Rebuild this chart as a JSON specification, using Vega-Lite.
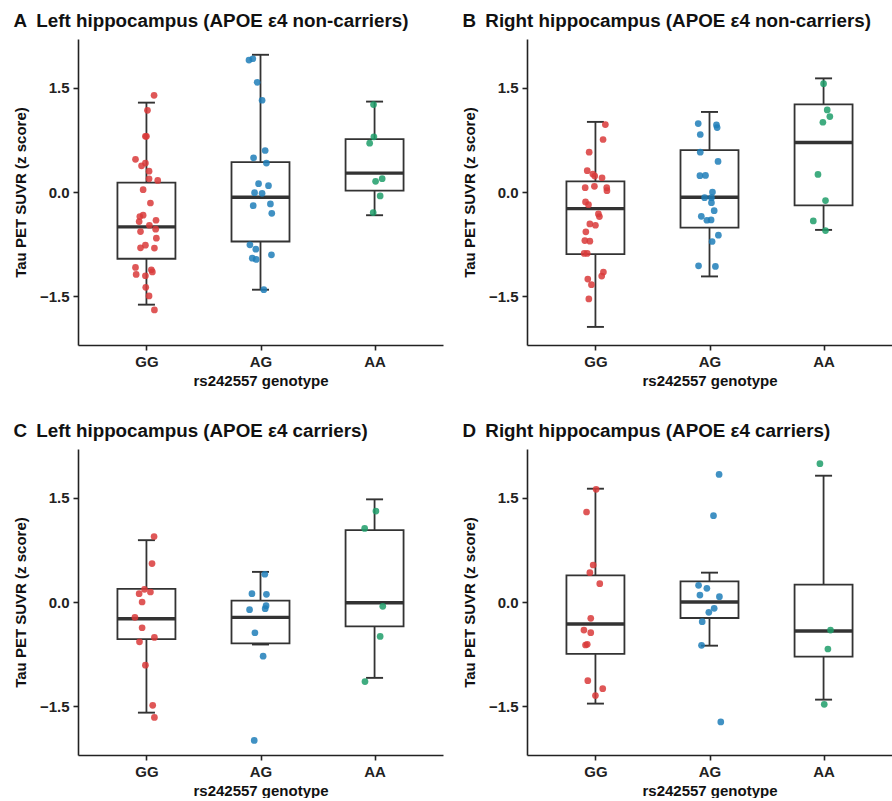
{
"$schema": "https://vega.github.io/schema/vega-lite/v6.json",
"padding": {"left": 13, "top": 12, "right": 0, "bottom": 0},
"background": "white",
"config": {
  "view": {"stroke": null},
  "font": "Liberation Sans",
  "tick": {"opacity": 1},
  "title": {"font": "Liberation Sans", "fontSize": 18.8, "fontWeight": "bold", "color": "#111", "anchor": "start", "frame": "bounds", "offset": 8},
  "axis": {"labelFont": "Liberation Sans", "labelFontSize": 15, "labelFontWeight": "bold", "labelColor": "#222", "titleFont": "Liberation Sans", "titleFontSize": 15, "titleFontWeight": "bold", "titleColor": "#111", "domainColor": "#222", "domainWidth": 1.6, "tickColor": "#222", "tickWidth": 1.6, "tickSize": 5, "grid": false, "labelPadding": 4},
  "axisY": {"titlePadding": 11},
  "axisX": {"titlePadding": 4}
},
"datasets": {
"box": [
{"p":"A","g":"GG","lo":-1.62,"q1":-0.96,"med":-0.502,"q3":0.134,"hi":1.285},
{"p":"A","g":"AG","lo":-1.405,"q1":-0.712,"med":-0.076,"q3":0.43,"hi":1.973},
{"p":"A","g":"AA","lo":-0.334,"q1":0.019,"med":0.272,"q3":0.76,"hi":1.3},
{"p":"B","g":"GG","lo":-1.94,"q1":-0.893,"med":-0.239,"q3":0.153,"hi":1.008},
{"p":"B","g":"AG","lo":-1.214,"q1":-0.511,"med":-0.076,"q3":0.602,"hi":1.151},
{"p":"B","g":"AA","lo":-0.545,"q1":-0.191,"med":0.712,"q3":1.261,"hi":1.634},
{"p":"C","g":"GG","lo":-1.591,"q1":-0.534,"med":-0.24,"q3":0.188,"hi":0.889},
{"p":"C","g":"AG","lo":-0.611,"q1":-0.596,"med":-0.221,"q3":0.019,"hi":0.433},
{"p":"C","g":"AA","lo":-1.091,"q1":-0.351,"med":-0.01,"q3":1.034,"hi":1.476},
{"p":"D","g":"GG","lo":-1.461,"q1":-0.747,"med":-0.316,"q3":0.383,"hi":1.629},
{"p":"D","g":"AG","lo":-0.628,"q1":-0.23,"med":0.0,"q3":0.297,"hi":0.422},
{"p":"D","g":"AA","lo":-1.404,"q1":-0.786,"med":-0.417,"q3":0.249,"hi":1.816}
],
"pts": [
{"p":"A","g":"GG","v":1.39,"j":0.067},{"p":"A","g":"GG","v":1.175,"j":0.009},{"p":"A","g":"GG","v":0.8,"j":-0.009},{"p":"A","g":"GG","v":0.8,"j":0.0},
{"p":"A","g":"GG","v":0.47,"j":-0.096},{"p":"A","g":"GG","v":0.416,"j":-0.009},{"p":"A","g":"GG","v":0.377,"j":-0.043},{"p":"A","g":"GG","v":0.3,"j":0.023},
{"p":"A","g":"GG","v":0.19,"j":0.023},{"p":"A","g":"GG","v":0.167,"j":0.099},{"p":"A","g":"GG","v":0.033,"j":-0.029},{"p":"A","g":"GG","v":-0.158,"j":0.035},
{"p":"A","g":"GG","v":-0.334,"j":-0.029},{"p":"A","g":"GG","v":-0.354,"j":-0.058},{"p":"A","g":"GG","v":-0.425,"j":-0.064},{"p":"A","g":"GG","v":-0.406,"j":0.084},
{"p":"A","g":"GG","v":-0.478,"j":0.026},{"p":"A","g":"GG","v":-0.535,"j":0.081},{"p":"A","g":"GG","v":-0.569,"j":-0.052},{"p":"A","g":"GG","v":-0.664,"j":0.087},
{"p":"A","g":"GG","v":-0.765,"j":-0.009},{"p":"A","g":"GG","v":-0.803,"j":-0.052},{"p":"A","g":"GG","v":-0.807,"j":0.07},{"p":"A","g":"GG","v":-1.085,"j":-0.096},
{"p":"A","g":"GG","v":-1.118,"j":0.043},{"p":"A","g":"GG","v":-1.15,"j":0.052},{"p":"A","g":"GG","v":-1.185,"j":-0.09},{"p":"A","g":"GG","v":-1.204,"j":-0.009},
{"p":"A","g":"GG","v":-1.371,"j":-0.006},{"p":"A","g":"GG","v":-1.495,"j":0.023},{"p":"A","g":"GG","v":-1.696,"j":0.07},
{"p":"A","g":"AG","v":1.897,"j":-0.101},{"p":"A","g":"AG","v":1.916,"j":-0.067},{"p":"A","g":"AG","v":1.577,"j":-0.029},{"p":"A","g":"AG","v":1.319,"j":0.014},
{"p":"A","g":"AG","v":0.597,"j":0.041},{"p":"A","g":"AG","v":0.492,"j":-0.061},{"p":"A","g":"AG","v":0.416,"j":0.052},{"p":"A","g":"AG","v":0.119,"j":-0.017},
{"p":"A","g":"AG","v":0.091,"j":0.07},{"p":"A","g":"AG","v":-0.01,"j":-0.052},{"p":"A","g":"AG","v":-0.019,"j":0.014},{"p":"A","g":"AG","v":-0.196,"j":-0.064},
{"p":"A","g":"AG","v":-0.172,"j":0.087},{"p":"A","g":"AG","v":-0.306,"j":0.099},{"p":"A","g":"AG","v":-0.76,"j":-0.093},{"p":"A","g":"AG","v":-0.822,"j":-0.041},
{"p":"A","g":"AG","v":-0.951,"j":-0.072},{"p":"A","g":"AG","v":-0.97,"j":-0.038},{"p":"A","g":"AG","v":-0.903,"j":0.096},{"p":"A","g":"AG","v":-1.405,"j":0.029},
{"p":"A","g":"AA","v":1.257,"j":-0.009},{"p":"A","g":"AA","v":0.793,"j":-0.006},{"p":"A","g":"AA","v":0.702,"j":-0.043},{"p":"A","g":"AA","v":0.191,"j":0.067},
{"p":"A","g":"AA","v":0.153,"j":0.009},{"p":"A","g":"AA","v":-0.057,"j":0.049},{"p":"A","g":"AA","v":-0.296,"j":-0.012},
{"p":"B","g":"GG","v":0.97,"j":0.087},{"p":"B","g":"GG","v":0.755,"j":0.067},{"p":"B","g":"GG","v":0.573,"j":-0.055},{"p":"B","g":"GG","v":0.306,"j":-0.072},
{"p":"B","g":"GG","v":0.258,"j":-0.023},{"p":"B","g":"GG","v":0.229,"j":-0.006},{"p":"B","g":"GG","v":0.205,"j":0.058},{"p":"B","g":"GG","v":0.062,"j":-0.09},
{"p":"B","g":"GG","v":0.081,"j":-0.009},{"p":"B","g":"GG","v":0.062,"j":0.099},{"p":"B","g":"GG","v":0.019,"j":0.101},{"p":"B","g":"GG","v":-0.143,"j":-0.087},
{"p":"B","g":"GG","v":-0.182,"j":-0.061},{"p":"B","g":"GG","v":-0.315,"j":0.026},{"p":"B","g":"GG","v":-0.354,"j":0.035},{"p":"B","g":"GG","v":-0.459,"j":-0.049},
{"p":"B","g":"GG","v":-0.478,"j":0.0},{"p":"B","g":"GG","v":-0.573,"j":-0.084},{"p":"B","g":"GG","v":-0.698,"j":-0.093},{"p":"B","g":"GG","v":-0.707,"j":-0.049},
{"p":"B","g":"GG","v":-0.884,"j":-0.099},{"p":"B","g":"GG","v":-0.884,"j":-0.072},{"p":"B","g":"GG","v":-1.151,"j":0.07},{"p":"B","g":"GG","v":-1.209,"j":0.055},
{"p":"B","g":"GG","v":-1.252,"j":-0.067},{"p":"B","g":"GG","v":-1.333,"j":-0.035},{"p":"B","g":"GG","v":-1.538,"j":-0.058},
{"p":"B","g":"AG","v":0.984,"j":-0.099},{"p":"B","g":"AG","v":0.965,"j":0.061},{"p":"B","g":"AG","v":0.927,"j":0.067},{"p":"B","g":"AG","v":0.827,"j":-0.081},
{"p":"B","g":"AG","v":0.573,"j":-0.081},{"p":"B","g":"AG","v":0.44,"j":0.075},{"p":"B","g":"AG","v":0.234,"j":-0.084},{"p":"B","g":"AG","v":0.239,"j":-0.035},
{"p":"B","g":"AG","v":0.0,"j":0.026},{"p":"B","g":"AG","v":-0.081,"j":-0.043},{"p":"B","g":"AG","v":-0.081,"j":0.017},{"p":"B","g":"AG","v":-0.153,"j":0.017},
{"p":"B","g":"AG","v":-0.268,"j":0.041},{"p":"B","g":"AG","v":-0.349,"j":-0.072},{"p":"B","g":"AG","v":-0.406,"j":-0.023},{"p":"B","g":"AG","v":-0.401,"j":0.014},
{"p":"B","g":"AG","v":-0.621,"j":0.078},{"p":"B","g":"AG","v":-0.712,"j":0.023},{"p":"B","g":"AG","v":-1.061,"j":-0.096},{"p":"B","g":"AG","v":-1.07,"j":0.052},
{"p":"B","g":"AA","v":1.558,"j":0.0},{"p":"B","g":"AA","v":1.18,"j":0.032},{"p":"B","g":"AA","v":1.085,"j":0.055},{"p":"B","g":"AA","v":1.003,"j":-0.006},
{"p":"B","g":"AA","v":0.253,"j":-0.049},{"p":"B","g":"AA","v":-0.124,"j":0.017},{"p":"B","g":"AA","v":-0.416,"j":-0.09},{"p":"B","g":"AA","v":-0.554,"j":0.017},
{"p":"C","g":"GG","v":0.942,"j":0.067},{"p":"C","g":"GG","v":0.553,"j":0.049},{"p":"C","g":"GG","v":0.183,"j":-0.017},{"p":"C","g":"GG","v":0.12,"j":-0.064},
{"p":"C","g":"GG","v":0.144,"j":0.035},{"p":"C","g":"GG","v":0.0,"j":-0.038},{"p":"C","g":"GG","v":-0.221,"j":-0.101},{"p":"C","g":"GG","v":-0.37,"j":-0.038},
{"p":"C","g":"GG","v":-0.51,"j":0.07},{"p":"C","g":"GG","v":-0.572,"j":-0.061},{"p":"C","g":"GG","v":-0.909,"j":-0.009},{"p":"C","g":"GG","v":-1.486,"j":0.055},
{"p":"C","g":"GG","v":-1.659,"j":0.07},
{"p":"C","g":"AG","v":0.399,"j":0.038},{"p":"C","g":"AG","v":0.12,"j":-0.075},{"p":"C","g":"AG","v":0.111,"j":0.052},{"p":"C","g":"AG","v":-0.053,"j":0.049},
{"p":"C","g":"AG","v":-0.096,"j":0.041},{"p":"C","g":"AG","v":-0.111,"j":-0.096},{"p":"C","g":"AG","v":-0.442,"j":-0.049},{"p":"C","g":"AG","v":-0.779,"j":0.023},
{"p":"C","g":"AG","v":-1.99,"j":-0.055},
{"p":"C","g":"AA","v":1.308,"j":0.012},{"p":"C","g":"AA","v":1.058,"j":-0.087},{"p":"C","g":"AA","v":-0.0625,"j":0.072},{"p":"C","g":"AA","v":-0.495,"j":0.049},
{"p":"C","g":"AA","v":-1.144,"j":-0.084},
{"p":"D","g":"GG","v":1.62,"j":0.006},{"p":"D","g":"GG","v":1.294,"j":-0.078},{"p":"D","g":"GG","v":0.532,"j":-0.02},{"p":"D","g":"GG","v":0.422,"j":-0.049},
{"p":"D","g":"GG","v":0.264,"j":0.038},{"p":"D","g":"GG","v":-0.235,"j":-0.041},{"p":"D","g":"GG","v":-0.403,"j":-0.101},{"p":"D","g":"GG","v":-0.441,"j":-0.041},
{"p":"D","g":"GG","v":-0.618,"j":-0.087},{"p":"D","g":"GG","v":-0.609,"j":-0.072},{"p":"D","g":"GG","v":-1.131,"j":-0.067},{"p":"D","g":"GG","v":-1.246,"j":0.064},
{"p":"D","g":"GG","v":-1.346,"j":0.0},
{"p":"D","g":"AG","v":1.835,"j":0.084},{"p":"D","g":"AG","v":1.241,"j":0.035},{"p":"D","g":"AG","v":0.24,"j":-0.096},{"p":"D","g":"AG","v":0.196,"j":-0.023},
{"p":"D","g":"AG","v":0.1,"j":-0.084},{"p":"D","g":"AG","v":0.077,"j":0.087},{"p":"D","g":"AG","v":-0.091,"j":0.041},{"p":"D","g":"AG","v":-0.149,"j":-0.006},
{"p":"D","g":"AG","v":-0.283,"j":-0.064},{"p":"D","g":"AG","v":-0.623,"j":-0.07},{"p":"D","g":"AG","v":-1.725,"j":0.099},
{"p":"D","g":"AA","v":1.989,"j":-0.032},{"p":"D","g":"AA","v":-0.403,"j":0.061},{"p":"D","g":"AA","v":-0.676,"j":0.038},{"p":"D","g":"AA","v":-1.471,"j":0.006}
]
},
"columns": 2,
"spacing": {"row": 34, "column": 19},
"concat": [
{"width": 365, "height": 306,
 "title": {"text": "A\u2002Left hippocampus (APOE ε4 non-carriers)"},
 "layer": [
  {"data": {"name": "box"}, "transform": [{"filter": "datum.p=='A'"}], "mark": {"type": "rule", "color": "#333", "strokeWidth": 1.8},
   "encoding": {"x": {"field": "g", "type": "nominal", "scale": {"type": "point", "padding": 0.6, "domain": ["GG","AG","AA"]}, "axis": {"labelAngle": 0, "title": "rs242557 genotype"}},
    "y": {"field": "lo", "type": "quantitative", "scale": {"domain": [-2.2, 2.2], "nice": false}, "axis": {"values": [-1.5, 0, 1.5], "format": ".1f", "title": "Tau PET SUVR (z score)"}}, "y2": {"field": "hi"}}},
  {"data": {"name": "box"}, "transform": [{"filter": "datum.p=='A'"}], "mark": {"type": "tick", "color": "#333", "size": 17, "thickness": 1.9},
   "encoding": {"x": {"field": "g", "type": "nominal"}, "y": {"field": "hi", "type": "quantitative"}}},
  {"data": {"name": "box"}, "transform": [{"filter": "datum.p=='A'"}], "mark": {"type": "tick", "color": "#333", "size": 17, "thickness": 1.9},
   "encoding": {"x": {"field": "g", "type": "nominal"}, "y": {"field": "lo", "type": "quantitative"}}},
  {"data": {"name": "box"}, "transform": [{"filter": "datum.p=='A'"}], "mark": {"type": "bar", "fill": "white", "stroke": "#333", "strokeWidth": 1.8, "size": 58},
   "encoding": {"x": {"field": "g", "type": "nominal"}, "y": {"field": "q1", "type": "quantitative"}, "y2": {"field": "q3"}}},
  {"data": {"name": "box"}, "transform": [{"filter": "datum.p=='A'"}], "mark": {"type": "tick", "color": "#333", "size": 58, "thickness": 3.4},
   "encoding": {"x": {"field": "g", "type": "nominal"}, "y": {"field": "med", "type": "quantitative"}}},
  {"data": {"name": "pts"}, "transform": [{"filter": "datum.p=='A'"}], "mark": {"type": "circle", "size": 45, "opacity": 0.85},
   "encoding": {"x": {"field": "g", "type": "nominal"}, "xOffset": {"field": "j", "type": "quantitative", "scale": {"domain": [-0.5, 0.5], "range": [-57, 57]}},
    "y": {"field": "v", "type": "quantitative"},
    "color": {"field": "g", "type": "nominal", "scale": {"domain": ["GG","AG","AA"], "range": ["#D93A3A","#1F7EB8","#1E9E6A"]}, "legend": null}}}
 ]},
{"width": 365, "height": 306,
 "title": {"text": "B\u2002Right hippocampus (APOE ε4 non-carriers)"},
 "layer": [
  {"data": {"name": "box"}, "transform": [{"filter": "datum.p=='B'"}], "mark": {"type": "rule", "color": "#333", "strokeWidth": 1.8},
   "encoding": {"x": {"field": "g", "type": "nominal", "scale": {"type": "point", "padding": 0.6, "domain": ["GG","AG","AA"]}, "axis": {"labelAngle": 0, "title": "rs242557 genotype"}},
    "y": {"field": "lo", "type": "quantitative", "scale": {"domain": [-2.2, 2.2], "nice": false}, "axis": {"values": [-1.5, 0, 1.5], "format": ".1f", "title": "Tau PET SUVR (z score)"}}, "y2": {"field": "hi"}}},
  {"data": {"name": "box"}, "transform": [{"filter": "datum.p=='B'"}], "mark": {"type": "tick", "color": "#333", "size": 17, "thickness": 1.9},
   "encoding": {"x": {"field": "g", "type": "nominal"}, "y": {"field": "hi", "type": "quantitative"}}},
  {"data": {"name": "box"}, "transform": [{"filter": "datum.p=='B'"}], "mark": {"type": "tick", "color": "#333", "size": 17, "thickness": 1.9},
   "encoding": {"x": {"field": "g", "type": "nominal"}, "y": {"field": "lo", "type": "quantitative"}}},
  {"data": {"name": "box"}, "transform": [{"filter": "datum.p=='B'"}], "mark": {"type": "bar", "fill": "white", "stroke": "#333", "strokeWidth": 1.8, "size": 58},
   "encoding": {"x": {"field": "g", "type": "nominal"}, "y": {"field": "q1", "type": "quantitative"}, "y2": {"field": "q3"}}},
  {"data": {"name": "box"}, "transform": [{"filter": "datum.p=='B'"}], "mark": {"type": "tick", "color": "#333", "size": 58, "thickness": 3.4},
   "encoding": {"x": {"field": "g", "type": "nominal"}, "y": {"field": "med", "type": "quantitative"}}},
  {"data": {"name": "pts"}, "transform": [{"filter": "datum.p=='B'"}], "mark": {"type": "circle", "size": 45, "opacity": 0.85},
   "encoding": {"x": {"field": "g", "type": "nominal"}, "xOffset": {"field": "j", "type": "quantitative", "scale": {"domain": [-0.5, 0.5], "range": [-57, 57]}},
    "y": {"field": "v", "type": "quantitative"},
    "color": {"field": "g", "type": "nominal", "scale": {"domain": ["GG","AG","AA"], "range": ["#D93A3A","#1F7EB8","#1E9E6A"]}, "legend": null}}}
 ]},
{"width": 365, "height": 306,
 "title": {"text": "C\u2002Left hippocampus (APOE ε4 carriers)"},
 "layer": [
  {"data": {"name": "box"}, "transform": [{"filter": "datum.p=='C'"}], "mark": {"type": "rule", "color": "#333", "strokeWidth": 1.8},
   "encoding": {"x": {"field": "g", "type": "nominal", "scale": {"type": "point", "padding": 0.6, "domain": ["GG","AG","AA"]}, "axis": {"labelAngle": 0, "title": "rs242557 genotype"}},
    "y": {"field": "lo", "type": "quantitative", "scale": {"domain": [-2.2, 2.2], "nice": false}, "axis": {"values": [-1.5, 0, 1.5], "format": ".1f", "title": "Tau PET SUVR (z score)"}}, "y2": {"field": "hi"}}},
  {"data": {"name": "box"}, "transform": [{"filter": "datum.p=='C'"}], "mark": {"type": "tick", "color": "#333", "size": 17, "thickness": 1.9},
   "encoding": {"x": {"field": "g", "type": "nominal"}, "y": {"field": "hi", "type": "quantitative"}}},
  {"data": {"name": "box"}, "transform": [{"filter": "datum.p=='C'"}], "mark": {"type": "tick", "color": "#333", "size": 17, "thickness": 1.9},
   "encoding": {"x": {"field": "g", "type": "nominal"}, "y": {"field": "lo", "type": "quantitative"}}},
  {"data": {"name": "box"}, "transform": [{"filter": "datum.p=='C'"}], "mark": {"type": "bar", "fill": "white", "stroke": "#333", "strokeWidth": 1.8, "size": 58},
   "encoding": {"x": {"field": "g", "type": "nominal"}, "y": {"field": "q1", "type": "quantitative"}, "y2": {"field": "q3"}}},
  {"data": {"name": "box"}, "transform": [{"filter": "datum.p=='C'"}], "mark": {"type": "tick", "color": "#333", "size": 58, "thickness": 3.4},
   "encoding": {"x": {"field": "g", "type": "nominal"}, "y": {"field": "med", "type": "quantitative"}}},
  {"data": {"name": "pts"}, "transform": [{"filter": "datum.p=='C'"}], "mark": {"type": "circle", "size": 45, "opacity": 0.85},
   "encoding": {"x": {"field": "g", "type": "nominal"}, "xOffset": {"field": "j", "type": "quantitative", "scale": {"domain": [-0.5, 0.5], "range": [-57, 57]}},
    "y": {"field": "v", "type": "quantitative"},
    "color": {"field": "g", "type": "nominal", "scale": {"domain": ["GG","AG","AA"], "range": ["#D93A3A","#1F7EB8","#1E9E6A"]}, "legend": null}}}
 ]},
{"width": 365, "height": 306,
 "title": {"text": "D\u2002Right hippocampus (APOE ε4 carriers)"},
 "layer": [
  {"data": {"name": "box"}, "transform": [{"filter": "datum.p=='D'"}], "mark": {"type": "rule", "color": "#333", "strokeWidth": 1.8},
   "encoding": {"x": {"field": "g", "type": "nominal", "scale": {"type": "point", "padding": 0.6, "domain": ["GG","AG","AA"]}, "axis": {"labelAngle": 0, "title": "rs242557 genotype"}},
    "y": {"field": "lo", "type": "quantitative", "scale": {"domain": [-2.2, 2.2], "nice": false}, "axis": {"values": [-1.5, 0, 1.5], "format": ".1f", "title": "Tau PET SUVR (z score)"}}, "y2": {"field": "hi"}}},
  {"data": {"name": "box"}, "transform": [{"filter": "datum.p=='D'"}], "mark": {"type": "tick", "color": "#333", "size": 17, "thickness": 1.9},
   "encoding": {"x": {"field": "g", "type": "nominal"}, "y": {"field": "hi", "type": "quantitative"}}},
  {"data": {"name": "box"}, "transform": [{"filter": "datum.p=='D'"}], "mark": {"type": "tick", "color": "#333", "size": 17, "thickness": 1.9},
   "encoding": {"x": {"field": "g", "type": "nominal"}, "y": {"field": "lo", "type": "quantitative"}}},
  {"data": {"name": "box"}, "transform": [{"filter": "datum.p=='D'"}], "mark": {"type": "bar", "fill": "white", "stroke": "#333", "strokeWidth": 1.8, "size": 58},
   "encoding": {"x": {"field": "g", "type": "nominal"}, "y": {"field": "q1", "type": "quantitative"}, "y2": {"field": "q3"}}},
  {"data": {"name": "box"}, "transform": [{"filter": "datum.p=='D'"}], "mark": {"type": "tick", "color": "#333", "size": 58, "thickness": 3.4},
   "encoding": {"x": {"field": "g", "type": "nominal"}, "y": {"field": "med", "type": "quantitative"}}},
  {"data": {"name": "pts"}, "transform": [{"filter": "datum.p=='D'"}], "mark": {"type": "circle", "size": 45, "opacity": 0.85},
   "encoding": {"x": {"field": "g", "type": "nominal"}, "xOffset": {"field": "j", "type": "quantitative", "scale": {"domain": [-0.5, 0.5], "range": [-57, 57]}},
    "y": {"field": "v", "type": "quantitative"},
    "color": {"field": "g", "type": "nominal", "scale": {"domain": ["GG","AG","AA"], "range": ["#D93A3A","#1F7EB8","#1E9E6A"]}, "legend": null}}}
 ]}
]
}
